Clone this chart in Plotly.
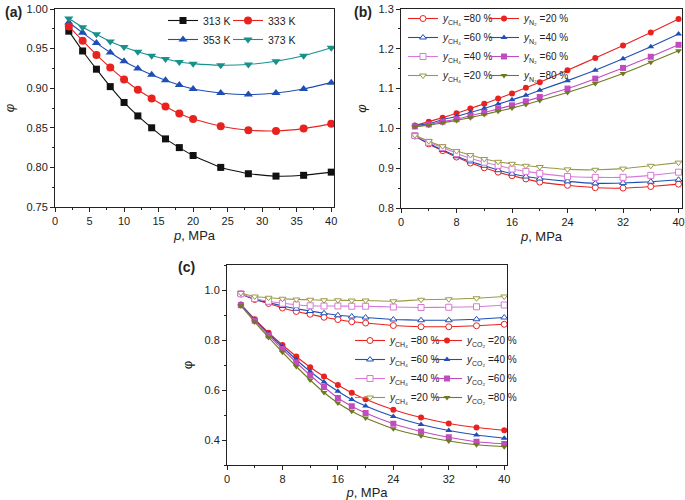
import plotly.graph_objects as go

p = [2, 4, 6, 8, 10, 12, 14, 16, 18, 20, 24, 28, 32, 36, 40]

# Panel (a): temperature series
phi_313 = [0.972, 0.947, 0.924, 0.902, 0.882, 0.865, 0.850, 0.836, 0.825, 0.815, 0.800, 0.792, 0.789, 0.790, 0.794]
phi_333 = [0.978, 0.960, 0.942, 0.926, 0.911, 0.898, 0.887, 0.877, 0.868, 0.861, 0.852, 0.847, 0.846, 0.849, 0.855]
phi_353 = [0.983, 0.970, 0.957, 0.945, 0.934, 0.925, 0.917, 0.910, 0.904, 0.899, 0.894, 0.892, 0.894, 0.899, 0.907]
phi_373 = [0.988, 0.977, 0.968, 0.959, 0.952, 0.946, 0.941, 0.937, 0.933, 0.931, 0.929, 0.930, 0.934, 0.941, 0.951]

# Panel (b): CH4 / N2 mixtures
b_ch4_80 = [0.981, 0.961, 0.944, 0.928, 0.913, 0.901, 0.890, 0.881, 0.873, 0.865, 0.857, 0.851, 0.850, 0.854, 0.860]
b_ch4_60 = [0.981, 0.962, 0.946, 0.930, 0.917, 0.906, 0.895, 0.886, 0.879, 0.874, 0.867, 0.862, 0.863, 0.866, 0.871]
b_ch4_40 = [0.982, 0.965, 0.952, 0.937, 0.925, 0.915, 0.907, 0.898, 0.892, 0.887, 0.879, 0.877, 0.877, 0.882, 0.890]
b_ch4_20 = [0.983, 0.968, 0.955, 0.943, 0.933, 0.923, 0.916, 0.911, 0.906, 0.903, 0.897, 0.896, 0.899, 0.906, 0.914]
b_n2_20 = [1.007, 1.017, 1.027, 1.038, 1.050, 1.062, 1.075, 1.088, 1.102, 1.116, 1.146, 1.177, 1.208, 1.241, 1.275]
b_n2_40 = [1.007, 1.012, 1.022, 1.030, 1.040, 1.050, 1.061, 1.072, 1.083, 1.096, 1.120, 1.146, 1.175, 1.205, 1.237]
b_n2_60 = [1.005, 1.010, 1.017, 1.023, 1.032, 1.040, 1.049, 1.058, 1.068, 1.079, 1.100, 1.125, 1.152, 1.180, 1.210]
b_n2_80 = [1.004, 1.008, 1.014, 1.020, 1.027, 1.035, 1.043, 1.051, 1.060, 1.070, 1.090, 1.113, 1.138, 1.166, 1.195]

# Panel (c): CH4 / CO2 mixtures
c_ch4_80 = [0.984, 0.962, 0.946, 0.928, 0.914, 0.903, 0.891, 0.882, 0.873, 0.868, 0.858, 0.853, 0.853, 0.857, 0.863]
c_ch4_60 = [0.984, 0.962, 0.950, 0.936, 0.925, 0.916, 0.907, 0.899, 0.894, 0.890, 0.882, 0.879, 0.879, 0.883, 0.890]
c_ch4_40 = [0.985, 0.966, 0.955, 0.947, 0.941, 0.937, 0.936, 0.936, 0.935, 0.935, 0.932, 0.930, 0.931, 0.933, 0.940]
c_ch4_20 = [0.988, 0.974, 0.969, 0.965, 0.962, 0.961, 0.959, 0.959, 0.958, 0.958, 0.955, 0.961, 0.963, 0.967, 0.974]
c_co2_20 = [0.942, 0.883, 0.829, 0.780, 0.734, 0.691, 0.654, 0.620, 0.589, 0.563, 0.521, 0.490, 0.466, 0.450, 0.439]
c_co2_40 = [0.942, 0.881, 0.825, 0.773, 0.721, 0.674, 0.632, 0.595, 0.562, 0.536, 0.494, 0.462, 0.438, 0.420, 0.407]
c_co2_60 = [0.939, 0.877, 0.818, 0.764, 0.710, 0.659, 0.612, 0.568, 0.535, 0.508, 0.465, 0.434, 0.411, 0.393, 0.384]
c_co2_80 = [0.937, 0.872, 0.810, 0.751, 0.694, 0.640, 0.590, 0.548, 0.515, 0.488, 0.445, 0.417, 0.396, 0.381, 0.373]

BLACK = "#111111"
RED = "#e8231f"
BLUE = "#1f4fb4"
TEAL = "#17918c"
MAG = "#c04cc0"
MAG_L = "#d77ad7"
OLIVE = "#6f7a20"
OLIVE_L = "#9a9a45"

FONT = "Liberation Sans, Arial, sans-serif"

fig = go.Figure()


def add(y, name, color, symbol, xa, ya, legend, filled=True, size=6):
    if filled:
        marker = dict(symbol=symbol, size=size, color=color, line=dict(width=0))
    else:
        marker = dict(symbol=symbol, size=size, color="white", line=dict(color=color, width=1))
    fig.add_trace(go.Scatter(
        x=p, y=y, name=name, mode="lines+markers", xaxis=xa, yaxis=ya,
        line=dict(color=color, width=1.1, shape="spline", smoothing=0.4),
        marker=marker, legend=legend, showlegend=True,
    ))


# Panel (a)
add(phi_313, "313 K", BLACK, "square", "x", "y", "legend", size=7)
add(phi_353, "353 K", BLUE, "triangle-up", "x", "y", "legend", size=8)
add(phi_333, "333 K", RED, "circle", "x", "y", "legend2", size=8)
add(phi_373, "373 K", TEAL, "triangle-down", "x", "y", "legend2", size=8)

ych4 = "<i>y</i><sub>CH₄</sub> ="
yn2 = "<i>y</i><sub>N₂</sub> ="
yco2 = "<i>y</i><sub>CO₂</sub> ="

# Panel (b)
add(b_ch4_80, ych4 + "80 %", RED, "circle", "x2", "y2", "legend3", filled=False)
add(b_ch4_60, ych4 + "60 %", BLUE, "triangle-up", "x2", "y2", "legend3", filled=False)
add(b_ch4_40, ych4 + "40 %", MAG_L, "square", "x2", "y2", "legend3", filled=False)
add(b_ch4_20, ych4 + "20 %", OLIVE_L, "triangle-down", "x2", "y2", "legend3", filled=False)
add(b_n2_20, yn2 + "20 %", RED, "circle", "x2", "y2", "legend4")
add(b_n2_40, yn2 + "40 %", BLUE, "triangle-up", "x2", "y2", "legend4")
add(b_n2_60, yn2 + "60 %", MAG, "square", "x2", "y2", "legend4")
add(b_n2_80, yn2 + "80 %", OLIVE, "triangle-down", "x2", "y2", "legend4")

# Panel (c)
add(c_ch4_80, ych4 + "80 %", RED, "circle", "x3", "y3", "legend5", filled=False)
add(c_ch4_60, ych4 + "60 %", BLUE, "triangle-up", "x3", "y3", "legend5", filled=False)
add(c_ch4_40, ych4 + "40 %", MAG_L, "square", "x3", "y3", "legend5", filled=False)
add(c_ch4_20, ych4 + "20 %", OLIVE_L, "triangle-down", "x3", "y3", "legend5", filled=False)
add(c_co2_20, yco2 + "20 %", RED, "circle", "x3", "y3", "legend6")
add(c_co2_40, yco2 + "40 %", BLUE, "triangle-up", "x3", "y3", "legend6")
add(c_co2_60, yco2 + "60 %", MAG, "square", "x3", "y3", "legend6")
add(c_co2_80, yco2 + "80 %", OLIVE, "triangle-down", "x3", "y3", "legend6")

W, H = 685, 500


def px_x(v):
    return v / W


def px_y(v):
    return 1 - v / H


def xax(domain, rng, dtick, minor_dtick, anchor):
    return dict(
        domain=domain, range=rng, anchor=anchor, dtick=dtick, tick0=0,
        showline=True, linecolor="#222", linewidth=1, mirror=True,
        ticks="outside", ticklen=4, tickwidth=1, tickcolor="#222",
        minor=dict(ticks="outside", dtick=minor_dtick, ticklen=2, tickcolor="#222"),
        showgrid=False, zeroline=False, automargin=False,
        tickfont=dict(family=FONT, size=11, color="#222"),
        title=dict(text="<i>p</i>, MPa", font=dict(family=FONT, size=13, color="#222"), standoff=4),
    )


def yax(domain, rng, dtick, minor_dtick, anchor, fmt, title="<i>φ</i>"):
    return dict(
        domain=domain, range=rng, anchor=anchor, dtick=dtick, tick0=0,
        showline=True, linecolor="#222", linewidth=1, mirror=True,
        ticks="outside", ticklen=4, tickwidth=1, tickcolor="#222",
        minor=dict(ticks="outside", dtick=minor_dtick, ticklen=2, tickcolor="#222"),
        showgrid=False, zeroline=False, tickformat=fmt, automargin=False,
        tickfont=dict(family=FONT, size=11, color="#222"),
        title=dict(text=title, font=dict(family=FONT, size=13, color="#222"), standoff=8),
    )


def leg(xpx, ypx, size=10.5):
    return dict(
        x=px_x(xpx), y=px_y(ypx), xanchor="left", yanchor="top",
        bgcolor="rgba(0,0,0,0)", borderwidth=0,
        font=dict(family=FONT, size=size, color="#222"),
        itemwidth=30, tracegroupgap=0,
    )


fig.update_layout(
    width=W, height=H, margin=dict(l=0, r=0, t=0, b=0, autoexpand=False),
    paper_bgcolor="white", plot_bgcolor="white",
    xaxis=xax([px_x(55), px_x(334)], [0, 40.4], 5, 2.5, "y"),
    yaxis=yax([px_y(207), px_y(9)], [0.75, 1.0], 0.05, 0.025, "x", ".2f"),
    xaxis2=xax([px_x(401), px_x(682)], [0, 40.5], 8, 4, "y2"),
    yaxis2=yax([px_y(208), px_y(9)], [0.8, 1.3], 0.1, 0.05, "x2", ".1f"),
    xaxis3=xax([px_x(227), px_x(507)], [0, 40.4], 8, 4, "y3"),
    yaxis3=yax([px_y(465), px_y(265)], [0.3, 1.1], 0.2, 0.1, "x3", ".1f", title="φ"),
    legend=leg(163, 6),
    legend2=leg(228, 6),
    legend3=leg(403, 4, 10),
    legend4=leg(484, 4, 10),
    legend5=leg(350, 326, 10),
    legend6=leg(427, 326, 10),
    showlegend=True,
    annotations=[
        dict(text="<b>(a)</b>", x=px_x(3), y=px_y(12), xref="paper", yref="paper",
             xanchor="left", yanchor="middle", showarrow=False,
             font=dict(family=FONT, size=14, color="#222")),
        dict(text="<b>(b)</b>", x=px_x(352), y=px_y(12), xref="paper", yref="paper",
             xanchor="left", yanchor="middle", showarrow=False,
             font=dict(family=FONT, size=14, color="#222")),
        dict(text="<b>(c)</b>", x=px_x(176), y=px_y(267), xref="paper", yref="paper",
             xanchor="left", yanchor="middle", showarrow=False,
             font=dict(family=FONT, size=14, color="#222")),
    ],
)

fig.write_html(
    "out.html",
    config={"displayModeBar": False},
    post_script="document.body.style.margin='0px';document.body.style.overflow='hidden';"
                "document.documentElement.style.overflow='hidden';",
)
